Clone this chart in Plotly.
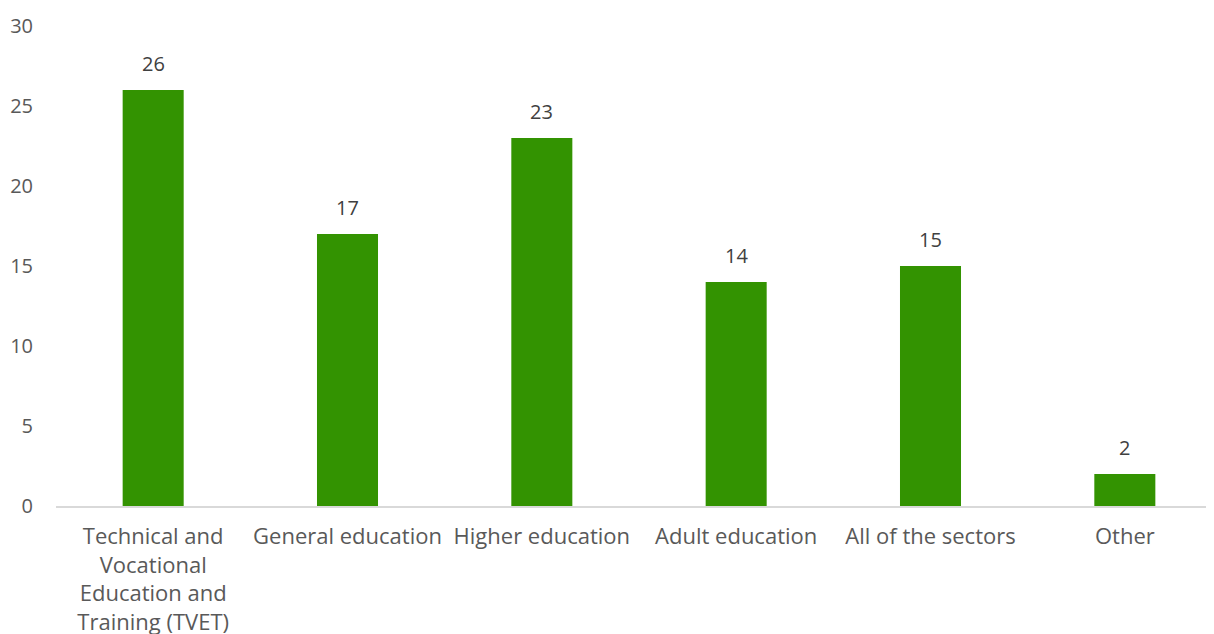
import plotly.graph_objects as go

categories = ["Technical and<br>Vocational<br>Education and<br>Training (TVET)",
              "General education", "Higher education", "Adult education",
              "All of the sectors", "Other"]
values = [26, 17, 23, 14, 15, 2]
y_ticks = [0, 5, 10, 15, 20, 25, 30]

bar_color = "#339301"
fig = go.Figure()
fig.add_trace(go.Bar(x=categories, y=values, marker_color=bar_color, width=0.314,
                     marker_line_width=0, hoverinfo="skip"))

for c, v in zip(categories, values):
    fig.add_annotation(x=c, y=v, text=str(v), showarrow=False, yanchor="bottom",
                       yshift=11, font=dict(size=20, color="#404040", family="Open Sans"))

fig.update_layout(
    width=1214, height=634,
    margin=dict(l=48, r=0, t=18, b=136),
    plot_bgcolor="white", paper_bgcolor="white",
    showlegend=False,
    font=dict(family="Open Sans", size=20, color="#595959"),
)
fig.update_xaxes(range=[-0.5, 5.5], showline=True, linecolor="#d9d9d9", linewidth=1.5,
                 ticks="", showgrid=False, tickangle=0, ticklabelstandoff=10,
                 automargin=False, tickfont=dict(size=22))
fig.update_yaxes(range=[0, 30], tickvals=y_ticks, showgrid=False, zeroline=False,
                 showline=False, ticks="", ticklabelstandoff=22, automargin=False)
fig.write_html("out.html")
